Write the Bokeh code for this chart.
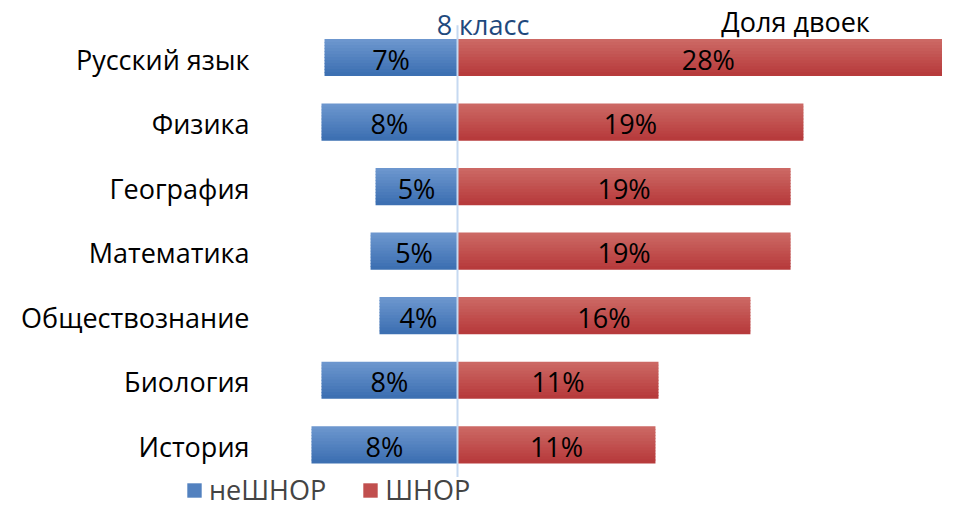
from bokeh.plotting import figure
from bokeh.models import Range1d, Label, Legend, LegendItem
from bokeh.core.properties import value
from bokeh.embed import file_html
from bokeh.resources import INLINE

# ---------------- data ----------------
subjects = ["Русский язык", "Физика", "География", "Математика",
            "Обществознание", "Биология", "История"]
ne_shnor = [7.45, 7.62, 4.59, 4.87, 4.37, 7.62, 8.18]      # неШНОР, %
shnor = [28.1, 19.38, 18.66, 18.66, 16.41, 11.26, 11.09]    # ШНОР, %
series_names = ["неШНОР", "ШНОР"]
title_text = "8 класс"
subtitle_text = "Доля двоек"

# ---------------- layout ----------------
W, H = 942, 508
CX = 457.0      # pixel position of zero
SX = 17.85      # pixels per percent
ROW0 = 57.0     # pixel centre of first row
ROWH = 64.55    # pixels per row
BAR_H = 0.565
FONT = value("Open Sans")
FS = "27px"
MID_OFF = 1.7   # px shift so cap-height centre sits on the row centre

p = figure(width=W, height=H, output_backend="svg", toolbar_location=None,
           x_range=Range1d(-CX / SX, (W - CX) / SX),
           y_range=Range1d((H - ROW0) / ROWH, -ROW0 / ROWH),
           min_border=0, x_axis_location=None, y_axis_location=None,
           outline_line_color=None, background_fill_color="white",
           border_fill_color="white")
p.grid.visible = False

n = len(subjects)
ys = list(range(n))

# gradient colours (top -> bottom)
blue_top, blue_bot = (0x6e, 0x98, 0xcf), (0x3b, 0x6e, 0xb1)
red_top, red_bot = (0xcd, 0x6a, 0x66), (0xb6, 0x39, 0x3a)


def mix(a, b, t):
    return "#%02x%02x%02x" % tuple(int(round(a[i] + (b[i] - a[i]) * t)) for i in range(3))


NS = 12
blue_mid = red_mid = None
for k in range(NS):
    t = (k + 0.5) / NS
    off = -BAR_H / 2 + t * BAR_H
    sh = BAR_H / NS + 0.012
    ys_k = [y + off for y in ys]
    bc = mix(blue_top, blue_bot, t)
    rc = mix(red_top, red_bot, t)
    rb = p.hbar(y=ys_k, left=[-v for v in ne_shnor], right=[0] * n, height=sh,
                fill_color=bc, line_color=None)
    rr = p.hbar(y=ys_k, left=[0] * n, right=shnor, height=sh,
                fill_color=rc, line_color=None)
    if k == NS // 2:
        blue_mid, red_mid = rb, rr

# centre line
p.segment(x0=[0], y0=[-0.5], x1=[0], y1=[n - 0.5], line_color="#c6d9f1", line_width=2)

# category labels
LABEL_X = (249 - CX) / SX
p.text(x=[LABEL_X] * n, y=ys, text=subjects, text_align="right",
       text_baseline="middle", y_offset=MID_OFF,
       text_font=FONT, text_font_size=FS, text_color="black")

# value labels
p.text(x=[-v / 2 for v in ne_shnor], y=ys, text=[f"{round(v)}%" for v in ne_shnor],
       text_align="center", text_baseline="middle", y_offset=MID_OFF,
       text_font=FONT, text_font_size=FS, text_color="black")
p.text(x=[v / 2 for v in shnor], y=ys, text=[f"{round(v)}%" for v in shnor],
       text_align="center", text_baseline="middle", y_offset=MID_OFF,
       text_font=FONT, text_font_size=FS, text_color="black")

# titles
p.add_layout(Label(x=482.5, y=H - 24, x_units="screen", y_units="screen", text=title_text,
                   text_align="center", text_baseline="middle", text_font="Open Sans",
                   text_font_size=FS, text_color="#1f497d"))
p.add_layout(Label(x=795, y=H - 20.8, x_units="screen", y_units="screen", text=subtitle_text,
                   text_align="center", text_baseline="middle", text_font="Open Sans",
                   text_font_size=FS, text_color="black"))

legend = Legend(items=[LegendItem(label=series_names[0], renderers=[blue_mid]),
                       LegendItem(label=series_names[1], renderers=[red_mid])],
                orientation="horizontal", location=(185, 0), border_line_color=None,
                background_fill_alpha=0, padding=0, margin=0, spacing=35,
                glyph_width=18, glyph_height=18, label_standoff=6,
                label_text_font="Open Sans", label_text_font_size=FS,
                label_text_baseline="middle")
p.add_layout(legend)

open("out.html", "w").write(file_html(p, INLINE))
